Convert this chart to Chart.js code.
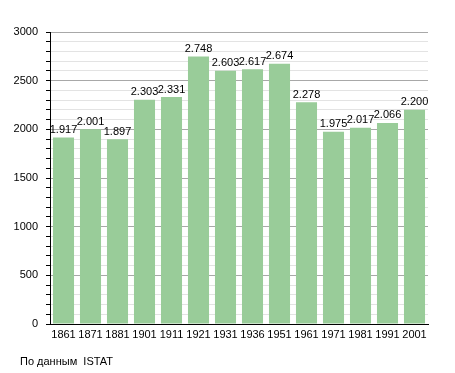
<!DOCTYPE html>
<html>
<head>
<meta charset="utf-8">
<script src="https://cdn.jsdelivr.net/npm/chart.js@4"></script>
<style>
  body { margin: 0; background: #fff; }
  #wrap { position: relative; width: 455px; height: 373px; }
  #note { position: absolute; left: 20px; top: 355px; font: 11px "Liberation Sans", Arial, sans-serif; color: #000; white-space: pre; }
</style>
</head>
<body>
<div id="wrap">
  <canvas id="myChart" width="455" height="373"></canvas>
  <div id="note">По данным  ISTAT</div>
</div>
<script>
const years = ['1861', '1871', '1881', '1901', '1911', '1921', '1931', '1936', '1951', '1961', '1971', '1981', '1991', '2001'];
const population = [1917, 2001, 1897, 2303, 2331, 2748, 2603, 2617, 2674, 2278, 1975, 2017, 2066, 2200];
const yTicks = [0, 500, 1000, 1500, 2000, 2500, 3000];

const font = { family: '"Liberation Sans", Arial, sans-serif', size: 11 };

function fmt(v) {
  return String(v).replace(/\B(?=(\d{3})+(?!\d))/g, '.');
}

const valueLabels = {
  id: 'valueLabels',
  afterDatasetsDraw(chart) {
    const ctx = chart.ctx;
    const meta = chart.getDatasetMeta(0);
    ctx.save();
    ctx.font = '11px "Liberation Sans", Arial, sans-serif';
    ctx.fillStyle = '#000';
    ctx.textAlign = 'center';
    ctx.textBaseline = 'bottom';
    meta.data.forEach((bar, i) => {
      ctx.fillText(fmt(population[i]), bar.x, bar.y - 2);
    });
    ctx.restore();
  },
};

const ctx = document.getElementById('myChart').getContext('2d');
const myChart = new Chart(ctx, {
  type: 'bar',
  data: {
    labels: years,
    datasets: [
      {
        data: population,
        backgroundColor: '#99cc99',
        borderWidth: 0,
        barPercentage: 0.78,
        categoryPercentage: 1,
      },
    ],
  },
  options: {
    responsive: false,
    animation: false,
    layout: { padding: { left: 0, right: 27, top: 32, bottom: 29 } },
    plugins: {
      legend: { display: false },
      tooltip: { enabled: false },
    },
    scales: {
      x: {
        grid: { display: false, drawTicks: false },
        border: { color: '#000', width: 1 },
        ticks: { color: '#000', font: font, padding: 4, maxRotation: 0, autoSkip: false },
        afterFit(scale) { scale.height = 20; },
      },
      y: {
        min: 0,
        max: 3000,
        border: { color: '#000', width: 1 },
        grid: {
          color: (c) => (c.tick && c.tick.value % 500 === 0 ? '#a8a8a8' : '#e3e3e3'),
          tickColor: '#000',
          tickLength: 4,
        },
        ticks: {
          stepSize: 100,
          autoSkip: false,
          color: '#000',
          font: font,
          padding: 8,
          callback: (v) => (yTicks.includes(v) ? String(v) : ''),
        },
        afterFit(scale) { scale.width = 50; },
      },
    },
  },
  plugins: [valueLabels],
});
</script>
</body>
</html>
